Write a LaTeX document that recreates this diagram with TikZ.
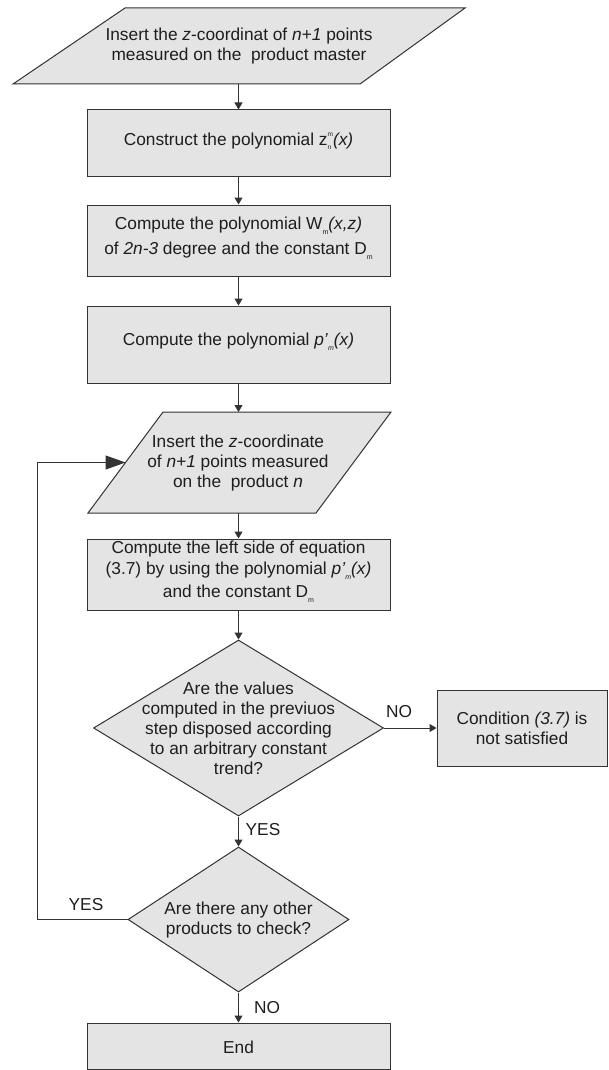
\documentclass[tikz,border=0pt]{standalone}
\usepackage{fontspec}
\setmainfont{Liberation Sans}
\usetikzlibrary{shapes.geometric,arrows.meta}
\newcommand{\sbx}[1]{\raisebox{-0.5ex}{\fontsize{7}{7}\selectfont #1}}
\newcommand{\stk}[2]{\raisebox{-3.5pt}{\fontsize{6.5}{13}\selectfont\begin{tabular}[b]{@{}l@{}}#1\\#2\end{tabular}}}
\definecolor{boxfill}{HTML}{E4E4E4}
\definecolor{edge}{HTML}{333333}
\definecolor{ink}{HTML}{1E1E1E}
\tikzset{
  shapebase/.style={draw=edge, fill=boxfill, line width=1pt, inner sep=0pt},
  procbox/.style={shapebase, rectangle, minimum width=303pt},
  decision/.style={shapebase, diamond},
  txt/.style={align=center, text=ink, font=\fontsize{17.3}{20}\selectfont, inner sep=0pt},
  lbl/.style={text=ink, font=\fontsize{17.3}{20}\selectfont, inner sep=0pt},
  arr/.style={draw=edge, line width=1pt, -{Triangle[length=7pt,width=8pt]}},
  bigarr/.style={draw=edge, line width=1pt, -{Triangle[length=20pt,width=14pt]}},
}
\begin{document}
\begin{tikzpicture}[x=1pt,y=-1pt]
\useasboundingbox (0,0) rectangle (608,1070);
\fill[white] (0,0) rectangle (608,1070);

% input 1
\draw[shapebase] (125,8) -- (465,8) -- (360,84) -- (13,84) -- cycle;
\coordinate (p1s) at (238.5,84);
\node[txt] (p1t) at (239,46) {Insert the \textit{z}-coordinat of \textit{n+1} points\\measured on the \ product master};

% boxes
\node[procbox, minimum height=66pt] (b1) at (238.5,143) {};
\node[txt] (b1t) at (238.5,140) {Construct the polynomial z\stk{m}{n}\textit{(x)}};

\node[procbox, minimum height=71pt] (b2) at (238.5,240.5) {};
\node[txt] (b2t) at (238.5,238) {Compute the polynomial W\sbx{m}\textit{(x,z)}\\[5pt]of \textit{2n-3} degree and the constant D\sbx{m}};

\node[procbox, minimum height=77pt] (b3) at (238.5,344.5) {};
\node[txt] (b3t) at (238.5,342) {Compute the polynomial \textit{p'}\sbx{\textit{m}}\textit{(x)}};

% input 2
\draw[shapebase] (163,412) -- (391,412) -- (316,513) -- (88,513) -- cycle;
\coordinate (p2n) at (238.5,412);
\coordinate (p2s) at (238.5,513);
\coordinate (p2w) at (125.5,462.5);
\node[txt] (p2t) at (238,463) {Insert the \textit{z}-coordinate\\of \textit{n+1} points measured\\on the \ product \textit{n}};

\node[procbox, minimum height=71pt] (b4) at (238.5,574.5) {};
\node[txt] (b4t) at (238.5,572) {Compute the left side of equation\\[1pt](3.7) by using the polynomial \textit{p'}\sbx{\textit{m}}\textit{(x)}\\[3pt]and the constant D\sbx{m}};

% decision 1
\node[decision, minimum width=290pt, minimum height=176pt] (d1) at (238.5,728) {};
\node[txt] (d1t) at (238.5,728) {Are the values\\computed in the previuos\\step disposed according\\to an arbitrary constant\\trend?};

\node[shapebase, rectangle, minimum width=170pt, minimum height=76pt] (c1) at (522,728) {};
\node[txt] (c1t) at (522,728) {Condition \textit{(3.7)} is\\not satisfied};

% decision 2
\node[decision, minimum width=221pt, minimum height=145pt] (d2) at (238.5,919.5) {};
\node[txt] (d2t) at (238.5,920) {Are there any other\\products to check?};

\node[procbox, minimum height=46pt] (e1) at (238.5,1046) {};
\node[txt] (e1t) at (238.5,1047) {End};

% connectors
\draw[arr] (p1s) -- (b1.north);
\draw[arr] (b1.south) -- (b2.north);
\draw[arr] (b2.south) -- (b3.north);
\draw[arr] (b3.south) -- (p2n);
\draw[arr] (p2s) -- (b4.north);
\draw[arr] (b4.south) -- (d1.north);
\draw[arr] (d1.east) -- (c1.west);
\draw[arr] (d1.south) -- (d2.north);
\draw[arr] (d2.south) -- (e1.north);
\coordinate (lp) at (37,919.5);
\draw[bigarr] (d2.west) -- (lp) |- (p2w);

% labels
\node[lbl] (no1) at (399,712) {NO};
\node[lbl] (yes1) at (263,830) {YES};
\node[lbl] (yes2) at (86,905) {YES};
\node[lbl] (no2) at (267,1008) {NO};
\end{tikzpicture}
\end{document}
